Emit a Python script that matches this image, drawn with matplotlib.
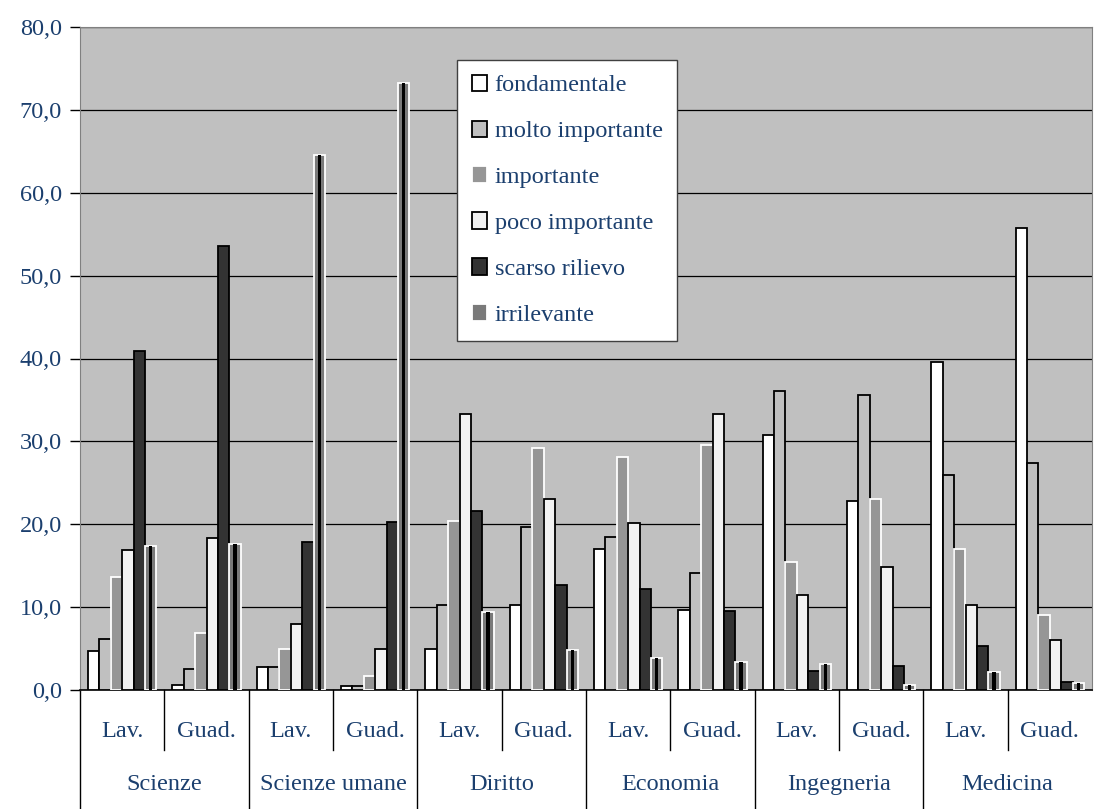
import matplotlib
matplotlib.use("Agg")
import matplotlib.pyplot as plt
from matplotlib.patches import Patch
import numpy as np

# Survey results (%) by faculty and group
faculties = ["Scienze", "Scienze umane", "Diritto", "Economia", "Ingegneria", "Medicina"]
groups = ["Lav.", "Guad."]
series_names = ["fondamentale", "molto importante", "importante",
                "poco importante", "scarso rilievo", "irrilevante"]

# one value per cluster (faculty x group, in order Lav., Guad.)
fondamentale     = [4.7, 0.6, 2.8, 0.5, 5.0, 10.2, 17.0, 9.7, 30.8, 22.8, 39.6, 55.7]
molto_importante = [6.2, 2.5, 2.8, 0.5, 10.3, 19.7, 18.5, 14.1, 36.1, 35.6, 25.9, 27.4]
importante       = [13.6, 6.9, 5.0, 1.7, 20.4, 29.2, 28.1, 29.6, 15.5, 23.1, 17.0, 9.1]
poco_importante  = [16.9, 18.4, 8.0, 4.9, 33.3, 23.1, 20.2, 33.3, 11.5, 14.9, 10.3, 6.0]
scarso_rilievo   = [40.9, 53.6, 17.9, 20.3, 21.6, 12.7, 12.2, 9.5, 2.3, 2.9, 5.3, 1.0]
irrilevante      = [17.4, 17.6, 64.5, 73.2, 9.4, 4.8, 3.9, 3.4, 3.1, 0.6, 2.2, 0.8]

series = [fondamentale, molto_importante, importante,
          poco_importante, scarso_rilievo, irrilevante]

y_ticks = np.arange(0, 81, 10)
y_tick_labels = [f"{v:.1f}".replace(".", ",") for v in y_ticks]

TEXT = "#1b3f6e"
BG = "#c0c0c0"
FS = 17.5
styles = [
    dict(facecolor="white", edgecolor="black"),
    dict(facecolor=BG, edgecolor="black"),
    dict(facecolor="#969696", edgecolor="white"),
    dict(facecolor="#f2f2f2", edgecolor="black"),
    dict(facecolor="#333333", edgecolor="black"),
    dict(facecolor="#7a7a7a", edgecolor="white"),
]

plt.rcParams["font.family"] = ["Liberation Serif", "DejaVu Serif"]

fig = plt.figure(figsize=(10.96, 8.09), dpi=100)
ax = fig.add_axes([80 / 1096, 1 - 690 / 809, 1012 / 1096, 663 / 809])
ax.set_facecolor(BG)

n_clusters = len(faculties) * len(groups)
centers = np.arange(n_clusters) + 0.5
w = 0.135

for k, (vals, st) in enumerate(zip(series, styles)):
    xs = centers + (k - 2.5) * w
    ax.bar(xs, vals, width=w, linewidth=1.3, zorder=3, **st)
    if k == 5:
        # dark centre stripe of the "irrilevante" bars
        ax.bar(xs, vals, width=w * 0.28, color="black", linewidth=0, zorder=4)

ax.set_xlim(0, n_clusters)
ax.set_ylim(0, 80)
ax.set_yticks(y_ticks)
ax.set_yticklabels(y_tick_labels, color=TEXT, fontsize=FS)
ax.tick_params(axis="y", length=7, width=1, color="black", pad=6)
ax.set_xticks([])
ax.yaxis.grid(True, color="black", linewidth=0.9)
ax.set_axisbelow(True)

for side in ("top", "right", "left"):
    ax.spines[side].set_color("#808080")
ax.spines["bottom"].set_color("black")
ax.spines["bottom"].set_linewidth(1.2)

# two-level category axis
tr = ax.get_xaxis_transform()
for i in range(n_clusters):
    ax.text(centers[i], -0.063, groups[i % 2], transform=tr, ha="center", va="center",
            color=TEXT, fontsize=FS)
for j, fac in enumerate(faculties):
    ax.text(2 * j + 1, -0.143, fac, transform=tr, ha="center", va="center",
            color=TEXT, fontsize=FS)
for i in range(n_clusters):
    bottom = -0.18 if i % 2 == 0 else -0.09
    ax.plot([i, i], [0, bottom], transform=tr, color="black", linewidth=1,
            clip_on=False)

handles = [Patch(linewidth=1.3, **st) for st in styles]
leg = ax.legend(handles, series_names, loc="upper left",
                bbox_to_anchor=((457 - 80) / 1012, (690 - 60) / 663),
                fontsize=FS, frameon=True, fancybox=False, edgecolor="#404040",
                facecolor="white", framealpha=1, handlelength=0.65, handleheight=0.65,
                handletextpad=0.3, labelspacing=1.0, borderpad=0.6, borderaxespad=0)
for t in leg.get_texts():
    t.set_color(TEXT)
leg.get_frame().set_linewidth(1)
leg.set_zorder(10)

fig.savefig("out.png", dpi=100)
